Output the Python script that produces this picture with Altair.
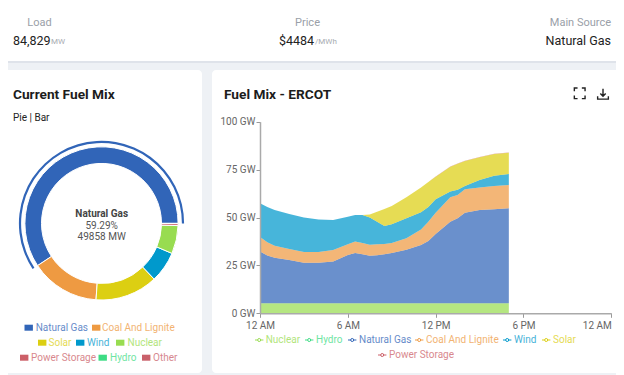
import altair as alt
import pandas as pd

# ---- data ----
MIX_NAMES = ["Natural Gas", "Coal And Lignite", "Solar", "Wind", "Nuclear", "Power Storage", "Hydro", "Other"]
MIX_MW = [49858, 12250, 11100, 5500, 5000, 350, 20, 14]

HOURS = [0, .5, 1, 2, 3, 4, 5, 6, 6.5, 7, 7.5, 8, 8.5, 9, 10, 11, 11.5, 12, 13, 13.5, 14, 15, 16, 17]
NUCLEAR = [5.2] * 24
HYDRO = [0.02] * 24
GAS = [27.0, 25.0, 23.8, 22.6, 21.2, 21.2, 21.8, 25.2, 26.3, 25.6, 24.8, 25.1, 25.6, 26.3, 28.0, 30.4, 32.5, 36.2, 42.6, 44.4, 47.3, 48.7, 49.1, 49.6]
COAL = [7.6, 6.8, 6.3, 5.8, 5.6, 5.6, 6.0, 5.6, 5.9, 5.9, 5.7, 5.7, 5.4, 5.2, 5.9, 8.1, 10.1, 11.1, 12.7, 12.1, 12.2, 11.8, 12.1, 12.2]
WIND = [17.6, 18.5, 18.6, 18.2, 18.0, 17.0, 15.7, 14.4, 13.9, 14.6, 14.3, 11.7, 9.4, 9.7, 10.5, 9.0, 7.7, 7.0, 3.0, 2.8, 1.7, 3.9, 5.4, 5.7]
SOLAR = [0, 0, 0, 0, 0, 0, 0, 0, 0, 0, 1.5, 5.3, 8.8, 9.6, 10.9, 13.0, 13.0, 11.8, 13.0, 13.5, 13.1, 11.8, 11.3, 11.1]
STORAGE = [0, 0, 0, 0, 0, 0, 0, 0, 0, 0, 0, 0, 0, 0, 0, 0, 0, 0.1, 0.1, 0.15, 0.15, 0.15, 0.15, 0.15]

STACK = [("Nuclear", NUCLEAR), ("Hydro", HYDRO), ("Natural Gas", GAS), ("Coal And Lignite", COAL),
         ("Wind", WIND), ("Solar", SOLAR), ("Power Storage", STORAGE)]

COLORS = {"Natural Gas": "#3165b8", "Coal And Lignite": "#ee9a42", "Solar": "#dccf12", "Wind": "#0099cc",
          "Nuclear": "#98dc50", "Power Storage": "#cc5f68", "Hydro": "#3ddc84", "Other": "#c9606a"}

FONT = "Roboto"
OX, OY = 8, 8  # the page margin: reference pixel -> chart pixel


def px(v):
    return alt.value(v - OX)


def py(v):
    return alt.value(v - OY)


ONE = alt.Data(values=[{"a": 0}])
color_scale = alt.Scale(domain=list(COLORS), range=list(COLORS.values()))


def rect(x0, x1, y0, y1, fill, r=4, op=1.0):
    return alt.Chart(ONE).mark_rect(fill=fill, cornerRadius=r, opacity=op).encode(
        x=px(x0), x2=px(x1), y=py(y0), y2=py(y1))


def text(t, x, y, size=11, color="#222222", align="left", weight="normal", op=1.0):
    return alt.Chart(ONE).mark_text(text=t, font=FONT, fontSize=size, color=color, align=align,
                                    baseline="middle", fontWeight=weight, opacity=op).encode(x=px(x), y=py(y))


layers = [
    rect(1, 640, 60, 63, "#dfe3ea", 0),
    rect(1, 640, 3, 61, "#ffffff"),
    rect(1, 202, 70, 373, "#ffffff"),
    rect(212, 640, 70, 373, "#ffffff"),
    text("Load", 39.5, 22.5, 11, "#9aa0a8", "center"),
    text("84,829", 13, 40.5, 12.5),
    text("MW", 51, 41.5, 8, "#a8acb2"),
    text("Price", 307.5, 22.5, 11, "#9aa0a8", "center"),
    text("$4484", 279, 40.5, 12.5),
    text("/MWh", 315, 41.5, 8, "#a8acb2"),
    text("Main Source", 611, 22.5, 11, "#9aa0a8", "right"),
    text("Natural Gas", 611, 40.5, 12.5, align="right"),
    text("Current Fuel Mix", 13, 95, 13.7, "#1c1c1c", weight="bold"),
    text("Fuel Mix - ERCOT", 224, 95, 13.7, "#1c1c1c", weight="bold"),
    text("Pie | Bar", 13, 117.5, 10, "#222222"),
]

# header icons
FULL = "M-1,-0.4V-1H-0.4 M0.4,-1H1V-0.4 M1,0.4V1H0.4 M-0.4,1H-1V0.4"
DOWN = "M0,-1V0.35 M-0.5,-0.1L0,0.4L0.5,-0.1 M-1,0.4V0.95H1V0.4"
for path, x, y in [(FULL, 579.7, 93.3), (DOWN, 603, 94)]:
    layers.append(alt.Chart(ONE).mark_point(shape=path, size=115, stroke="#222222", strokeWidth=1.4, fill="transparent",
                                            opacity=1).encode(x=px(x), y=py(y)))

# donut
mix = pd.DataFrame({"name": MIX_NAMES, "mw": MIX_MW, "i": range(len(MIX_NAMES))})
theta = alt.Theta("mw:Q", stack=True, scale=alt.Scale(range=[1.5708, -4.7124]))
base = alt.Chart(mix)
layers.append(base.mark_arc(radius=76.6, radius2=60, stroke="#ffffff", strokeWidth=1).encode(
    theta=theta, order=alt.Order("i:Q"), x=px(101.5), y=py(223.4),
    color=alt.Color("name:N", scale=color_scale, legend=None)))
layers.append(base.mark_arc(radius=82.6, radius2=80.4).encode(
    theta=theta, order=alt.Order("i:Q"), x=px(101.5), y=py(223.4),
    color=alt.Color("name:N", scale=color_scale, legend=None),
    opacity=alt.condition(alt.datum.name == "Natural Gas", alt.value(1), alt.value(0))))
layers.append(text("Natural Gas", 101.7, 214, 10, "#444444", "center", "bold"))
layers.append(text("59.29%", 101.7, 225.7, 10, "#555555", "center"))
layers.append(text("49858 MW", 101.7, 237, 10, "#555555", "center"))

# donut legend
for name, sx, tx, y in [("Natural Gas", 24.5, 35.7, 327.7), ("Coal And Lignite", 92, 102, 327.7),
                        ("Solar", 38, 48.5, 342.7), ("Wind", 76, 87, 342.7), ("Nuclear", 116, 127.5, 342.7),
                        ("Power Storage", 20, 31, 357.7), ("Hydro", 98.5, 110, 357.7), ("Other", 142, 153, 357.7)]:
    layers.append(rect(sx, sx + 8.4, y - 3, y + 3, COLORS[name], 0))
    layers.append(text(name, tx, y, 10, COLORS[name], op=0.75))

# stacked area
rows = []
for order, (name, vals) in enumerate(STACK):
    for h, v in zip(HOURS, vals):
        rows.append({"hour": h, "gw": v, "name": name, "order": order})
area_df = pd.DataFrame(rows)

X_LABEL = "(datum.value % 12 == 0 ? 12 : datum.value % 12) + (datum.value % 24 < 12 ? ' AM' : ' PM')"
layers.append(alt.Chart(area_df).mark_area(opacity=0.72, interpolate="linear").encode(
    x=alt.X("hour:Q", scale=alt.Scale(domain=[0, 24], range=[252, 603.3], nice=False),
            axis=alt.Axis(values=[0, 6, 12, 18, 24], labelExpr=X_LABEL, title=None, grid=False, offset=-61.7,
                          zindex=1, domainColor="#aaaaaa", domainWidth=1.5, tickColor="#999999", tickSize=4,
                          labelColor="#666666", labelFontSize=10, labelFont=FONT, labelPadding=3,
                          labelAlign=alt.expr("datum.value == 24 ? 'right' : 'center'"),
                          labelOverlap=False, labelBound=False, labelFlush=False)),
    y=alt.Y("gw:Q", stack="zero", scale=alt.Scale(domain=[0, 100], range=[305.3, 113.7], nice=False),
            axis=alt.Axis(values=[0, 25, 50, 75, 100], labelExpr="datum.value + ' GW'", title=None, grid=False,
                          offset=-252, zindex=1, domainColor="#aaaaaa", domainWidth=1.5, tickColor="#999999",
                          tickSize=4, labelColor="#666666", labelFontSize=10, labelFont=FONT, labelPadding=1)),
    color=alt.Color("name:N", scale=color_scale, legend=None),
    order=alt.Order("order:Q", sort="ascending"),
))

# area legend
for name, mx, tx, y in [("Nuclear", 255, 265.7, 340), ("Hydro", 305, 316, 340), ("Natural Gas", 348, 359, 340),
                        ("Coal And Lignite", 415, 426, 340), ("Wind", 503, 514, 340), ("Solar", 542, 553, 340),
                        ("Power Storage", 378, 389, 355)]:
    layers.append(rect(mx, mx + 8.4, y - 0.5, y + 0.5, COLORS[name], 0))
    layers.append(alt.Chart(ONE).mark_point(filled=True, fill="#ffffff", stroke=COLORS[name], strokeWidth=1, size=9,
                                            opacity=1).encode(x=px(mx + 4.2), y=py(y)))
    layers.append(text(name, tx, y, 10, COLORS[name], op=0.75))

chart = alt.layer(*layers).properties(
    width=608, height=367, padding=0, autosize=alt.AutoSizeParams(type="none"),
    background="#eef1f5",
).configure_view(stroke=None)

chart.save("out.html", embed_options={"renderer": "svg", "actions": False})
